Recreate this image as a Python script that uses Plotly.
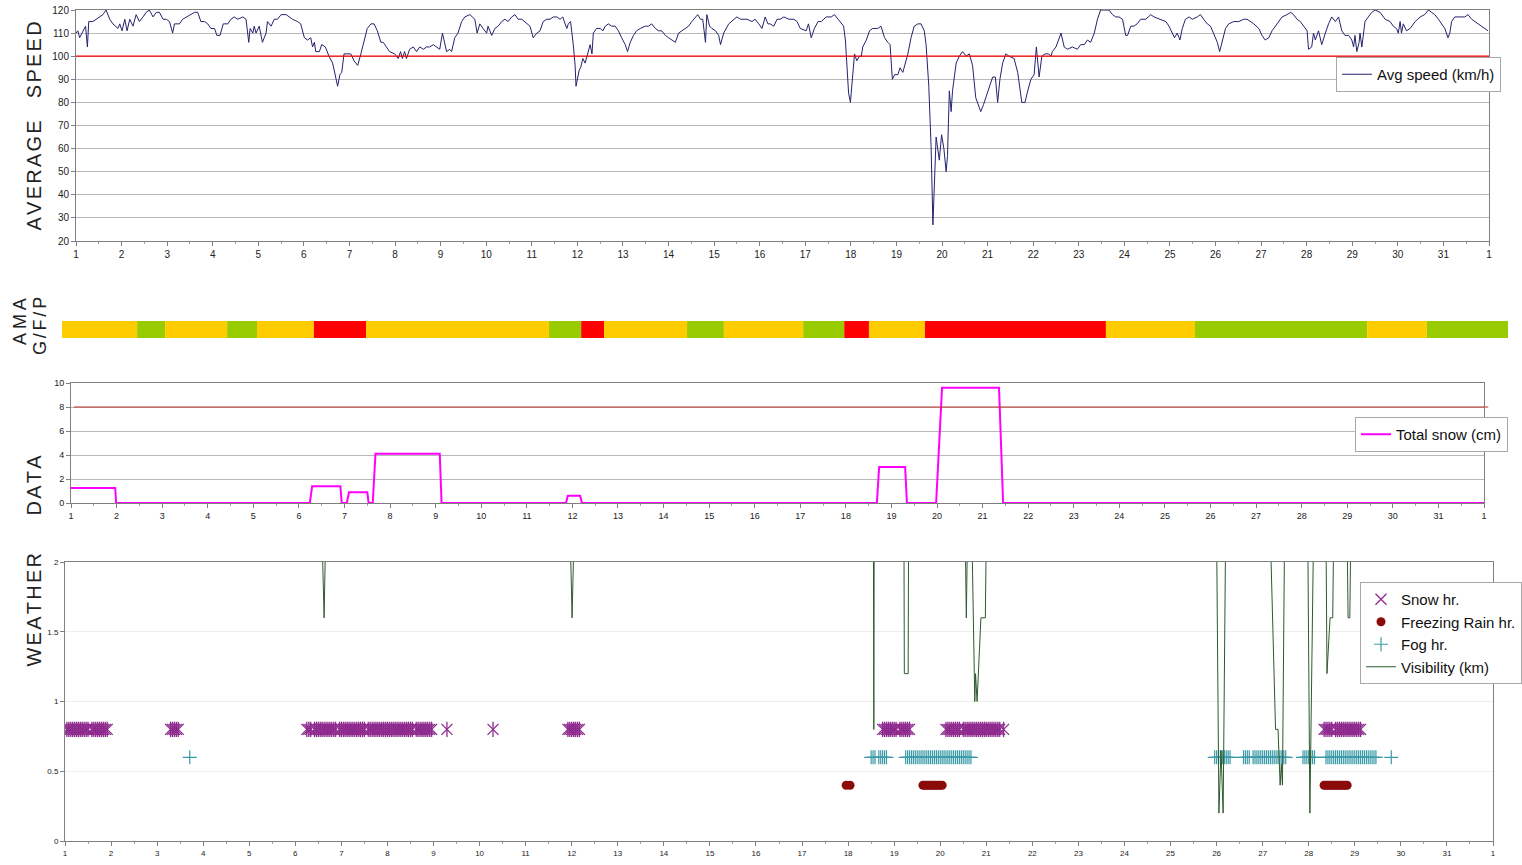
import plotly.graph_objects as go

W, H = 1522, 865

# ---------------- DATA ----------------
day_ticks = list(range(1, 33))
day_labels = [str(d) for d in range(1, 32)] + ["1"]

speed_day = [
    1.00, 1.04, 1.08, 1.15, 1.21, 1.25, 1.28, 1.37, 1.45, 1.52, 1.59, 1.66, 1.74, 1.81, 1.87, 1.92, 1.96,
    2.01, 2.07, 2.12, 2.18, 2.25, 2.32, 2.39, 2.47, 2.54, 2.61, 2.69, 2.76, 2.83, 2.91, 2.98,
    3.05, 3.12, 3.16, 3.27, 3.34, 3.42, 3.53, 3.60, 3.67, 3.74, 3.82, 3.89, 3.96,
    4.04, 4.09, 4.16, 4.23, 4.33, 4.40, 4.47, 4.55, 4.66, 4.73, 4.79, 4.82, 4.88, 4.91, 4.95,
    5.02, 5.09, 5.17, 5.20, 5.28, 5.35, 5.42, 5.50, 5.61, 5.68, 5.75, 5.86, 5.93,
    6.01, 6.08, 6.15, 6.19, 6.23, 6.26, 6.34, 6.39, 6.47, 6.55, 6.63, 6.70, 6.74, 6.79, 6.83, 6.88, 6.96,
    7.03, 7.10, 7.18, 7.25, 7.32, 7.39, 7.47, 7.54, 7.61, 7.69, 7.74, 7.81, 7.88, 7.99,
    8.07, 8.12, 8.16, 8.21, 8.25, 8.32, 8.40, 8.47, 8.54, 8.62, 8.69, 8.76, 8.84, 8.91, 8.98,
    9.04, 9.09, 9.13, 9.20, 9.24, 9.31, 9.38, 9.46, 9.53, 9.64, 9.75, 9.80, 9.86, 9.93,
    10.01, 10.04, 10.12, 10.19, 10.26, 10.34, 10.41, 10.48, 10.56, 10.63, 10.70, 10.78, 10.89, 10.96,
    11.03, 11.11, 11.18, 11.25, 11.33, 11.40, 11.47, 11.55, 11.62, 11.68, 11.73, 11.77, 11.80, 11.85, 11.91, 11.95, 11.97,
    12.00, 12.04, 12.07, 12.12, 12.17, 12.21, 12.24, 12.28, 12.32, 12.35, 12.42, 12.50, 12.56, 12.61, 12.68, 12.75, 12.83, 12.90, 12.97,
    13.05, 13.10, 13.16, 13.23, 13.30, 13.38, 13.49, 13.56, 13.63, 13.71, 13.78, 13.85, 13.93,
    14.00, 14.07, 14.15, 14.22, 14.29, 14.37, 14.44, 14.51, 14.59, 14.64, 14.70, 14.75, 14.81, 14.84, 14.90, 14.95,
    15.03, 15.10, 15.14, 15.21, 15.32, 15.43, 15.50, 15.58, 15.65, 15.72, 15.83, 15.90, 15.98,
    16.05, 16.12, 16.18, 16.23, 16.31, 16.38, 16.45, 16.53, 16.64, 16.75, 16.82, 16.89,
    17.02, 17.07, 17.13, 17.20, 17.28, 17.35, 17.46, 17.57, 17.64, 17.72, 17.79, 17.84, 17.88, 17.91, 17.95, 17.99,
    18.04, 18.08, 18.13, 18.19, 18.23, 18.26, 18.34, 18.41, 18.48, 18.59, 18.66, 18.74, 18.81, 18.86, 18.91, 18.96,
    19.03, 19.08, 19.14, 19.20, 19.25, 19.32, 19.39, 19.47, 19.54, 19.61, 19.65, 19.71, 19.76, 19.80, 19.83, 19.87, 19.94, 19.99,
    20.04, 20.09, 20.12, 20.16, 20.20, 20.23, 20.31, 20.38, 20.45, 20.53, 20.60, 20.67, 20.74, 20.80, 20.85, 20.91, 20.96,
    21.04, 21.11, 21.17, 21.22, 21.27, 21.33, 21.40, 21.47, 21.58, 21.66, 21.75, 21.82, 21.88, 21.95,
    22.02, 22.07, 22.13, 22.19, 22.26, 22.34, 22.39, 22.42, 22.50, 22.61, 22.68, 22.75, 22.86, 22.97,
    23.04, 23.12, 23.19, 23.26, 23.34, 23.41, 23.48, 23.55, 23.66, 23.74, 23.81, 23.88, 23.96,
    24.03, 24.07, 24.14, 24.21, 24.28, 24.36, 24.47, 24.58, 24.65, 24.80, 24.91, 24.98,
    25.05, 25.10, 25.16, 25.22, 25.27, 25.34, 25.42, 25.49, 25.60, 25.67, 25.74, 25.82, 25.89, 25.96,
    26.04, 26.09, 26.15, 26.22, 26.29, 26.40, 26.51, 26.62, 26.69, 26.77, 26.84, 26.95,
    27.02, 27.09, 27.17, 27.24, 27.35, 27.46, 27.57, 27.65, 27.71, 27.79, 27.86, 27.93,
    28.01, 28.04, 28.11, 28.15, 28.19, 28.26, 28.33, 28.41, 28.48, 28.55, 28.63, 28.70, 28.77, 28.84, 28.92, 28.99,
    29.03, 29.06, 29.10, 29.15, 29.17, 29.21, 29.28, 29.35, 29.43, 29.50, 29.61, 29.72, 29.83, 29.90, 29.97,
    30.01, 30.05, 30.08, 30.12, 30.19, 30.27, 30.38, 30.49, 30.59, 30.67, 30.74, 30.81, 30.89, 30.96,
    31.03, 31.10, 31.14, 31.18, 31.25, 31.36, 31.47, 31.54, 31.62, 31.69, 31.76, 31.83, 31.91, 31.98,
]
speed_kmh = [
    110, 111, 108, 111, 113, 104, 115, 115, 116, 117, 118, 120, 116, 114, 113, 112, 114,
    111, 116, 111, 116, 113, 118, 115, 117, 119, 120, 117, 119, 119, 116, 116,
    115, 110, 114, 114, 116, 117, 118, 119, 119, 115, 115, 114, 112,
    112, 109, 109, 114, 114, 116, 117, 116, 117, 116, 106, 112, 110, 113, 110,
    113, 106, 110, 115, 113, 116, 116, 118, 118, 117, 116, 115, 114,
    108, 107, 108, 104, 106, 102, 102, 105, 104, 100, 97, 90, 87, 92, 93, 101, 101,
    101, 98, 96, 101, 106, 112, 114, 114, 111, 106, 106, 104, 102, 101,
    99, 102, 99, 102, 99, 103, 104, 102, 104, 103, 104, 104, 105, 104, 103,
    110, 105, 102, 103, 102, 108, 110, 115, 117, 118, 116, 110, 114, 112,
    110, 113, 109, 112, 113, 115, 116, 115, 117, 118, 116, 116, 114, 113,
    108, 110, 111, 115, 116, 116, 117, 117, 116, 117, 114, 112, 114, 115, 105, 96, 87,
    90, 94, 95, 99, 97, 100, 103, 105, 101, 110, 112, 112, 111, 113, 114, 113, 113, 111, 108,
    105, 102, 106, 109, 111, 112, 113, 113, 114, 112, 111, 111, 109,
    108, 107, 106, 110, 111, 112, 113, 115, 117, 118, 116, 116, 106, 118, 113, 112,
    111, 109, 105, 110, 114, 116, 117, 116, 116, 116, 115, 116, 114,
    112, 117, 114, 114, 113, 116, 116, 117, 116, 116, 115, 112,
    111, 114, 108, 112, 115, 115, 117, 117, 118, 116, 114, 113, 107, 96, 84, 80,
    93, 101, 98, 100, 100, 104, 107, 111, 112, 112, 113, 108, 106, 105, 90, 92,
    92, 95, 93, 97, 101, 108, 113, 114, 114, 111, 105, 87, 61, 27, 47, 65, 55, 66,
    60, 50, 57, 85, 76, 85, 97, 100, 102, 100, 101, 96, 82, 79, 76, 79, 82,
    86, 91, 91, 80, 90, 97, 101, 100, 99, 93, 80, 80, 85, 90,
    92, 104, 91, 100, 101, 101, 100, 102, 104, 110, 104, 103, 104, 103,
    105, 105, 107, 106, 110, 116, 120, 120, 120, 118, 117, 117, 116,
    109, 109, 113, 113, 114, 116, 116, 118, 117, 116, 115, 113,
    110, 108, 110, 107, 112, 116, 117, 116, 117, 118, 116, 114, 113, 110,
    106, 102, 107, 112, 114, 115, 115, 116, 116, 115, 114, 112,
    109, 107, 108, 111, 114, 117, 118, 119, 118, 116, 115, 113,
    111, 103, 104, 110, 107, 111, 105, 110, 114, 117, 115, 117, 111, 109, 109, 107,
    104, 109, 102, 106, 110, 104, 115, 117, 119, 120, 119, 116, 115, 113, 112,
    110, 115, 110, 114, 111, 112, 115, 117, 118, 120, 119, 118, 116, 114,
    112, 108, 110, 115, 117, 117, 117, 118, 116, 115, 114, 113, 112, 111,
]
speed_limit = 100
assert len(speed_day) == len(speed_kmh)

# AMA Good / Fair / Poor rating periods (start day of each period)
ama_start_day = [1.00, 2.61, 3.21, 4.54, 5.18, 6.40, 7.52, 11.44, 12.13, 12.62, 14.40, 15.19,
                 16.89, 17.77, 18.30, 19.50, 23.38, 25.29, 28.98, 30.26]
ama_rating = ["F", "G", "F", "G", "F", "P", "F", "G", "P", "F", "G", "F",
              "G", "P", "F", "P", "F", "G", "F", "G"]
ama_end_day = 32.0
ama_colors = {"G": "#99CC00", "F": "#FFCC00", "P": "#FF0000"}

snow_day = [1.00, 1.97, 1.99, 6.24, 6.29, 6.91, 6.94, 7.05, 7.10, 7.50, 7.53, 7.62, 7.68, 9.09, 9.13,
            11.86, 11.90, 12.17, 12.21, 18.68, 18.73, 19.30, 19.34, 19.98, 20.11, 21.36, 21.45, 32.00]
snow_cm = [1.25, 1.25, 0, 0, 1.4, 1.4, 0, 0, 0.9, 0.9, 0, 0, 4.1, 4.1, 0,
           0, 0.6, 0.6, 0, 0, 3.0, 3.0, 0, 0, 9.6, 9.6, 0, 0]
snow_limit = 8

# hourly weather observations (hour of month, runs of consecutive hours)
snow_hr_runs = [(1, 12), (14, 22), (55, 59), (126, 128), (130, 141), (143, 156), (158, 181), (183, 191),
                (199, 199), (223, 223), (262, 268), (426, 433), (435, 440), (459, 466), (468, 487),
                (489, 489), (656, 660), (662, 675)]
frz_rain_hr_runs = [(407, 407), (409, 409), (447, 457), (656, 668)]
fog_hr_runs = [(65, 65), (420, 422), (424, 428), (438, 472), (599, 607), (614, 617), (619, 636),
               (645, 651), (657, 683), (691, 691)]
snow_hr_level = 0.8
frz_rain_hr_level = 0.4
fog_hr_level = 0.6

vis_hour = [0, 133.9, 135.0, 135.8, 263.2, 264.2, 265.2, 421.2, 421.4, 421.6,
            437.1, 437.3, 439.3, 439.5, 469.0, 469.6, 470.2,
            472.5, 474.0, 474.4, 475.2, 477.2, 479.5, 480.0,
            600.0, 601.2, 602.3, 603.4, 604.7,
            628.0, 630.7, 632.0, 633.1, 633.7, 634.3, 635.4,
            647.5, 648.6, 650.5, 657.0, 657.5, 659.1, 660.5, 661.0,
            668.0, 668.5, 669.4, 669.9, 744.0]
vis_km = [2.2, 2.2, 1.6, 2.2, 2.2, 1.6, 2.2, 2.2, 0.8, 2.2,
          2.2, 1.2, 1.2, 2.2, 2.2, 1.6, 2.2,
          2.2, 1.0, 1.2, 1.0, 1.6, 1.6, 2.2,
          2.2, 0.2, 0.65, 0.2, 2.2,
          2.2, 0.8, 0.8, 0.4, 0.55, 0.4, 2.2,
          2.2, 0.2, 2.2, 2.2, 1.2, 1.6, 1.6, 2.2,
          2.2, 1.6, 1.6, 2.2, 2.2]


# ---------------- helpers ----------------
def hour_to_day(h):
    return 1 + h / 24.0


def expand_runs(runs):
    return [h for a, b in runs for h in range(a, b + 1)]


def dom_x(a, b):
    return [a / W, b / W]


def dom_y(top, bottom):
    return [1 - bottom / H, 1 - top / H]


FONT = "Liberation Sans, Arial, sans-serif"


def spaced(word_list, gap_px=8):
    sep = '<span style="font-size:%dpx">\u00a0</span>' % gap_px
    words = [sep.join(list(w)) for w in word_list]
    return "\u00a0\u00a0\u00a0\u00a0".join(words)


fig = go.Figure()

# Speed panel
fig.add_trace(go.Scatter(x=speed_day, y=speed_kmh, mode="lines", name="Avg speed (km/h)",
                         line=dict(color="#23236E", width=1), xaxis="x", yaxis="y", legend="legend"))

# AMA rating bar
ama_end = ama_start_day[1:] + [ama_end_day]
ama_len = [e - s for s, e in zip(ama_start_day, ama_end)]
fig.add_trace(go.Bar(x=ama_len, base=ama_start_day, y=[0] * len(ama_len), orientation="h", width=1,
                     marker=dict(color=[ama_colors[r] for r in ama_rating], line=dict(width=0)),
                     xaxis="x2", yaxis="y2", showlegend=False, hoverinfo="skip"))

# Snow panel
fig.add_trace(go.Scatter(x=snow_day, y=snow_cm, mode="lines", name="Total snow (cm)",
                         line=dict(color="#FF00FF", width=2), xaxis="x3", yaxis="y3", legend="legend2"))

# Weather panel
snow_hours = expand_runs(snow_hr_runs)
frz_hours = expand_runs(frz_rain_hr_runs)
fog_hours = expand_runs(fog_hr_runs)
snow_col = "#8E2A8E"
fig.add_trace(go.Scatter(x=[hour_to_day(h) for h in snow_hours], y=[snow_hr_level] * len(snow_hours),
                         mode="markers", name="Snow hr.", legendgroup="snow", legendrank=1,
                         marker=dict(symbol="x-thin-open", size=11, color=snow_col,
                                     line=dict(color=snow_col, width=1.3)),
                         xaxis="x4", yaxis="y4", legend="legend3"))
fig.add_trace(go.Scatter(x=[hour_to_day(h) for h in snow_hours], y=[snow_hr_level] * len(snow_hours),
                         mode="markers", name="Snow hr.", legendgroup="snow", showlegend=False,
                         marker=dict(symbol="line-ns-open", size=11, color=snow_col,
                                     line=dict(color=snow_col, width=1.3)),
                         xaxis="x4", yaxis="y4", legend="legend3"))
fig.add_trace(go.Scatter(x=[hour_to_day(h) for h in frz_hours], y=[frz_rain_hr_level] * len(frz_hours),
                         mode="markers", name="Freezing Rain hr.", legendrank=2,
                         marker=dict(symbol="circle", size=9, color="#8B0A0A"),
                         xaxis="x4", yaxis="y4", legend="legend3"))
fig.add_trace(go.Scatter(x=[hour_to_day(h) for h in fog_hours], y=[fog_hr_level] * len(fog_hours),
                         mode="markers", name="Fog hr.", legendrank=3,
                         marker=dict(symbol="cross-thin-open", size=10, color="#3A9AA8",
                                     line=dict(color="#3A9AA8", width=1.2)),
                         xaxis="x4", yaxis="y4", legend="legend3"))
fig.add_trace(go.Scatter(x=[hour_to_day(h) for h in vis_hour], y=vis_km, mode="lines",
                         name="Visibility (km)", legendrank=4,
                         line=dict(color="#2E5A2E", width=1),
                         xaxis="x4", yaxis="y4", legend="legend3"))


def xax(domain, anchor, fsize):
    return dict(domain=domain, anchor=anchor, range=[1, 32], tickmode="array", tickvals=day_ticks,
                ticktext=day_labels, ticks="outside", ticklen=4, tickcolor="#808080",
                showline=True, linecolor="#808080", linewidth=1, mirror=True, automargin=False,
                showgrid=False, zeroline=False, tickfont=dict(family=FONT, size=fsize, color="#222"),
                minor=dict(tickvals=[d + 0.5 for d in range(1, 32)], ticks="outside", ticklen=2,
                           tickcolor="#A0A0A0"))


def yax(domain, anchor, rng, dtick, fsize, gridcolor):
    return dict(domain=domain, anchor=anchor, range=rng, dtick=dtick, ticks="outside", ticklen=4,
                tickcolor="#808080", showline=True, linecolor="#808080", linewidth=1, mirror=True,
                showgrid=True, gridcolor=gridcolor, gridwidth=1, zeroline=False, automargin=False,
                tickfont=dict(family=FONT, size=fsize, color="#222"))


leg_common = dict(bgcolor="white", bordercolor="#A8A8A8", borderwidth=1,
                  font=dict(family=FONT, size=15, color="#111"), itemwidth=30, tracegroupgap=0)


def ann(text, xc, yc, size):
    return dict(text=text, x=xc / W, y=1 - yc / H, xref="paper", yref="paper", xanchor="center",
                yanchor="middle", textangle=-90, showarrow=False,
                font=dict(family=FONT, size=size, color="#222"))


fig.update_layout(
    width=W, height=H, margin=dict(l=0, r=0, t=0, b=0, autoexpand=False),
    paper_bgcolor="white", plot_bgcolor="white", showlegend=True,
    xaxis=xax(dom_x(76, 1489), "y", 10),
    yaxis=yax(dom_y(10, 241), "x", [20, 120], 10, 10, "#B8B8B8"),
    xaxis2=dict(domain=dom_x(62, 1508), anchor="y2", range=[1, 32], visible=False),
    yaxis2=dict(domain=dom_y(321, 338), anchor="x2", range=[-0.5, 0.5], visible=False),
    xaxis3=xax(dom_x(71, 1484), "y3", 9),
    yaxis3=yax(dom_y(383, 503), "x3", [0, 10], 2, 9, "#B8B8B8"),
    xaxis4=xax(dom_x(65, 1493), "y4", 8),
    yaxis4=yax(dom_y(562, 841), "x4", [0, 2], 0.5, 8, "#EDEDED"),
    legend=dict(x=1501 / W, xanchor="right", y=1 - 57 / H, yanchor="top", **leg_common),
    legend2=dict(x=1508 / W, xanchor="right", y=1 - 417 / H, yanchor="top", **leg_common),
    legend3=dict(x=1.0, xanchor="right", y=1 - 582 / H, yanchor="top", **leg_common),
    shapes=[
        dict(type="line", xref="x domain", yref="y", x0=0, x1=1, y0=speed_limit, y1=speed_limit,
             line=dict(color="#FF0000", width=1.2)),
        dict(type="line", xref="x3 domain", yref="y3", x0=0.002, x1=1.003, y0=snow_limit, y1=snow_limit,
             line=dict(color="#C0302A", width=1.2)),
        dict(type="line", xref="x4 domain", yref="y4", x0=0, x1=1, y0=1, y1=1,
             line=dict(color="#B0B0B0", width=1), layer="below"),
    ],
    annotations=[
        ann(spaced(["AVERAGE", "SPEED"]), 33.5, 126, 20),
        ann(spaced(["AMA"], 14), 20, 322, 18),
        ann(spaced(["G/F/P"], 10), 40, 326, 18),
        ann(spaced(["DATA"]), 33.5, 485, 20),
        ann(spaced(["WEATHER"]), 33.5, 610, 20),
    ],
)

fig.write_html("out.html", config={"displayModeBar": False},
               post_script="document.body.style.margin='0';document.body.style.overflow='hidden';")
